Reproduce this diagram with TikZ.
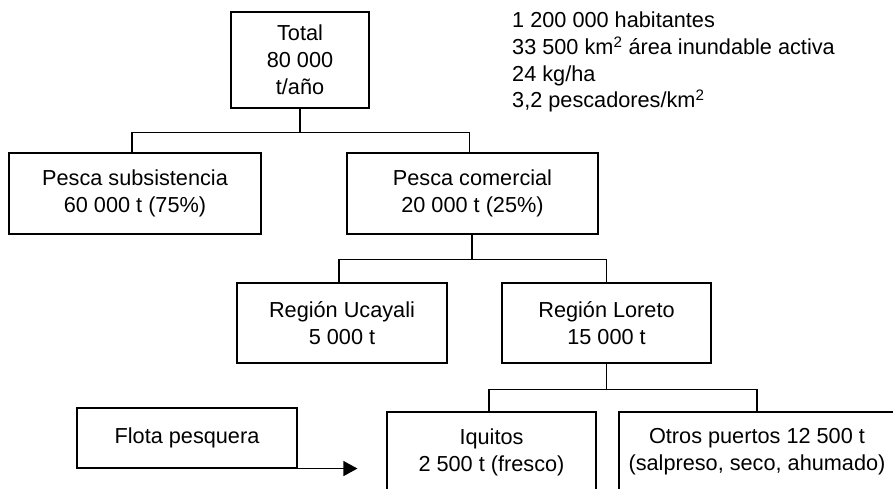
\documentclass[tikz,border=0pt]{standalone}
\usepackage{fontspec}
\setmainfont{Liberation Sans}
\usepackage{tikz}
\usetikzlibrary{positioning}
\usetikzlibrary{arrows.meta}

\begin{document}
\begin{tikzpicture}[x=1pt,y=1pt,
  font=\fontsize{21.7}{27}\selectfont,
  caja/.style={draw,line width=1.1pt,align=center,inner sep=0pt},
  rama/.style={line width=1.1pt}]
\useasboundingbox (0,0) rectangle (893,489);
\clip (0,0) rectangle (893,489);

%total
\node[caja,minimum width=138,minimum height=96] (total) at (300,429) {Total\\80 000\\t/año};
\node[anchor=base west,align=left,inner sep=0pt,font=\fontsize{21.7}{26.7}\selectfont] (datos) at (512,381)
  {1 200 000 habitantes\\33 500 km\textsuperscript{2} área inundable activa\\24 kg/ha\\3,2 pescadores/km\textsuperscript{2}};

%pesca
\node[caja,minimum width=252,minimum height=81] (sub) at (135,295.5) {Pesca subsistencia\\60 000 t (75\%)};
\node[caja,minimum width=251,minimum height=81] (com) at (472.5,295.5) {Pesca comercial\\20 000 t (25\%)};

%regiones
\node[caja,minimum width=210,minimum height=80] (ucayali) at (342,166) {Región Ucayali\\5 000 t};
\node[caja,minimum width=209,minimum height=80] (loreto) at (606.5,166) {Región Loreto\\15 000 t};

%puertos
\node[caja,minimum width=220,minimum height=60] (flota) at (187,51) {Flota pesquera};
\node[caja,minimum width=209,minimum height=80] (iquitos) at (491.5,37) {Iquitos\\2 500 t (fresco)};
\node[caja,minimum width=276,minimum height=80] (otros) at (757,37) {Otros puertos 12 500 t\\(salpreso, seco, ahumado)};

%ramas
\draw[rama] (total.south) -- ++(0,-24) -| ([xshift=-3]sub.north);
\draw[rama] (total.south) -- ++(0,-24) -| ([xshift=-3]com.north);
\draw[rama] ([xshift=-0.5]com.south) -- ++(0,-25) -| ([xshift=-3]ucayali.north);
\draw[rama] ([xshift=-0.5]com.south) -- ++(0,-25) -| (loreto.north);
\draw[rama] (loreto.south) -- ++(0,-26) -| ([xshift=-2.5]iquitos.north);
\draw[rama] (loreto.south) -- ++(0,-26) -| (otros.north);

%flecha
\draw[rama,-{Triangle[length=14,width=15]},shorten >=29] (flota.south east) -- (flota.south east -| iquitos.west);

\end{tikzpicture}
\end{document}
